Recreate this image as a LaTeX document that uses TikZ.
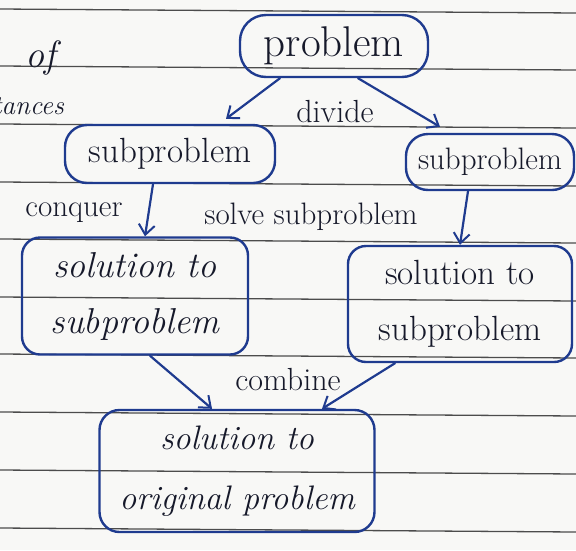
\documentclass[tikz,border=0pt]{standalone}
\usetikzlibrary{arrows.meta,calc}
\definecolor{paper}{HTML}{F8F8F6}
\definecolor{rule}{HTML}{4C4C4C}
\definecolor{ink}{HTML}{1F3B8F}
\definecolor{pen}{HTML}{16192A}
\tikzset{
  notebox/.style={draw=ink, line width=2.4pt, rounded corners=22pt, text=pen, align=center, inner sep=0pt},
  penarrow/.style={draw=ink, line width=2.2pt, line cap=round, -{Straight Barb[length=10pt,width=16pt,line width=2pt]}},
  label/.style={text=pen, inner sep=0pt},
  ruling/.style={draw=rule, line width=1.3pt}
}
\newcommand{\fsz}[2]{\fontsize{#1}{#2}\selectfont}
\begin{document}
\begin{tikzpicture}[x=1pt,y=-1pt]
  \useasboundingbox (0,0) rectangle (576,550);
  \clip (0,0) rectangle (576,550);
  \fill[paper] (0,0) rectangle (576,550);
  % ruled notebook lines
  \foreach \yy in {9,66,124,182,239,297,354,412,470,528}
    \draw[ruling] (0,\yy) -- (576,\yy+4);

  % margin words from the previous notes
  \node[label, anchor=east, font=\fsz{38}{38}\itshape] (mof) at (56,58) {of};
  \node[label, anchor=east, font=\fsz{27}{27}\itshape] (mtan) at (64,106) {tances};

  % boxes
  \node[notebox, minimum width=188pt, minimum height=62pt, rounded corners=26pt, font=\fsz{43}{43}] (prob) at (334,46) {problem};
  \node[notebox, minimum width=210pt, minimum height=58pt, font=\fsz{35}{35}] (lsub) at (170,154) {subproblem};
  \node[notebox, minimum width=168pt, minimum height=56pt, font=\fsz{31}{31}] (rsub) at (490,162) {subproblem};
  \node[notebox, minimum width=226pt, minimum height=117pt, rounded corners=18pt, font=\fsz{36}{56}\itshape] (lsol) at (135,296)
    {solution to\\subproblem};
  \node[notebox, minimum width=224pt, minimum height=116pt, rounded corners=18pt, font=\fsz{35}{56}] (rsol) at (460,304)
    {solution to\\subproblem};
  \node[notebox, minimum width=275pt, minimum height=122pt, rounded corners=20pt, font=\fsz{34}{60}\itshape] (bot) at (237,471)
    {solution to\\original problem};

  % connectors
  \draw[penarrow] ([xshift=-54pt]prob.south) -- ([xshift=56pt,yshift=5pt]lsub.north);
  \draw[penarrow] ([xshift=24pt]prob.south) -- ([xshift=-50pt,yshift=6pt]rsub.north);
  \draw[penarrow] ([xshift=-17pt]lsub.south) -- ([xshift=10pt]lsol.north);
  \draw[penarrow] ([xshift=-22pt]rsub.south) -- (rsol.north);
  \draw[penarrow] ([xshift=15pt]lsol.south) -- ([xshift=-25pt]bot.north);
  \draw[penarrow] ([xshift=-65pt]rsol.south) -- ([xshift=85pt]bot.north);

  % connector labels
  \node[label, font=\fsz{32}{32}] (divide) at (335,112) {divide};
  \node[label, font=\fsz{31}{31}] (conquer) at (74,213) {conquer};
  \node[label, font=\fsz{31}{31}] (solve) at (311,217) {solve subproblem};
  \node[label, font=\fsz{32}{32}] (combine) at (288,380) {combine};
\end{tikzpicture}
\end{document}
